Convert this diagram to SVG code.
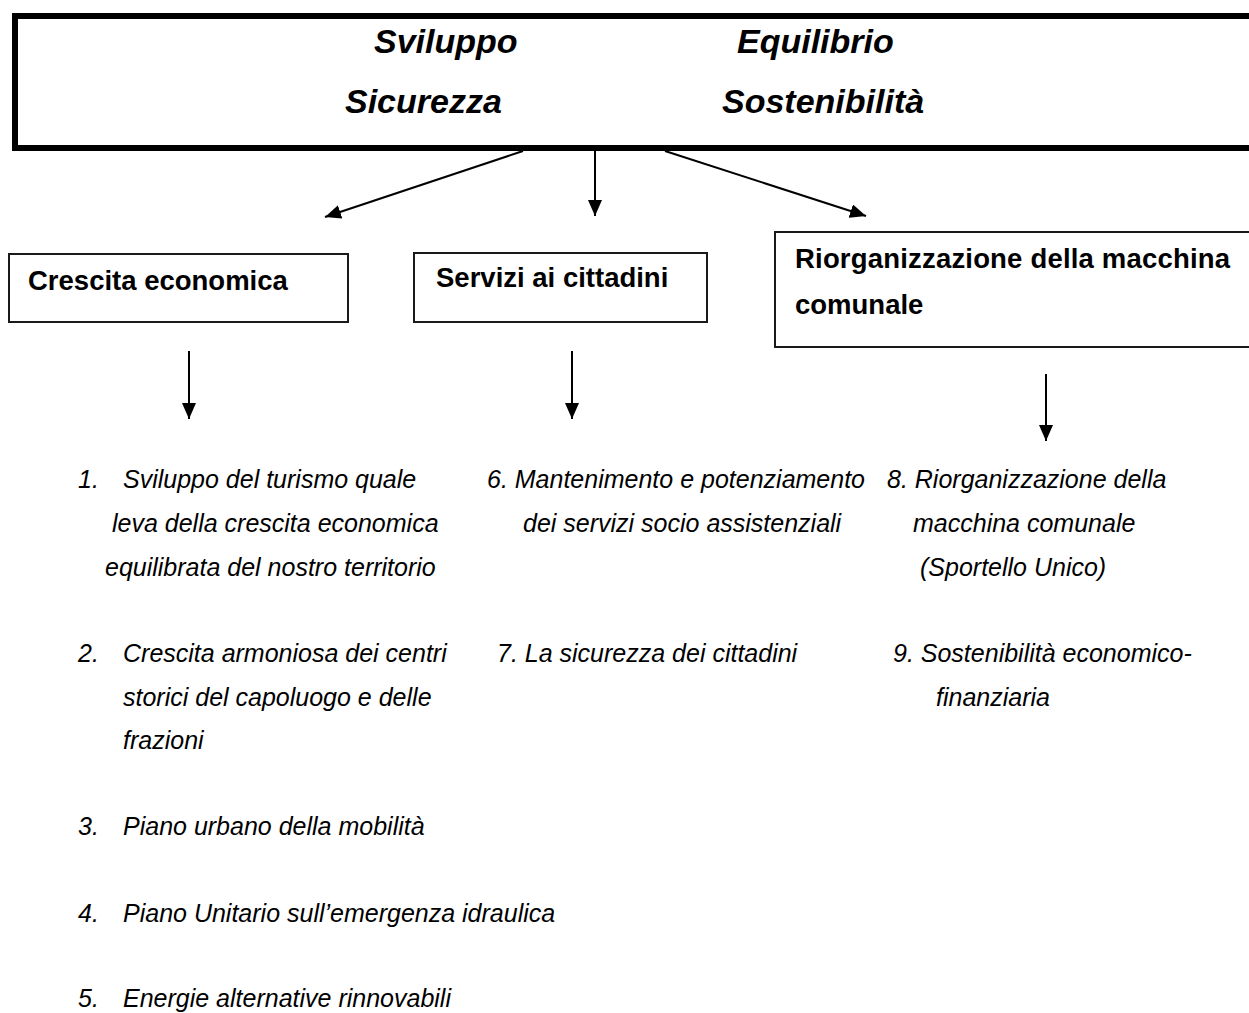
<svg xmlns="http://www.w3.org/2000/svg" width="1249" height="1013" viewBox="0 0 1249 1013">
<style>
  .hdr { font-family: "Liberation Sans", Arial, sans-serif; font-size: 34px; font-weight: bold; font-style: italic; fill: #000; }
  .box { fill: #fff; stroke: #1a1a1a; stroke-width: 2; }
  .lbl { font-family: "Liberation Sans", Arial, sans-serif; font-size: 27.5px; font-weight: bold; fill: #000; }
  .itm { font-family: "Liberation Sans", Arial, sans-serif; font-size: 25px; font-style: italic; fill: #000; }
  .conn { stroke: #000; stroke-width: 2; fill: none; marker-end: url(#ah); }
</style>
<defs>
  <marker id="ah" markerUnits="userSpaceOnUse" markerWidth="16" markerHeight="14" refX="16" refY="7" orient="auto">
    <path d="M0,0 L16,7 L0,14 z" fill="#000"/>
  </marker>
</defs>
<rect width="1249" height="1013" fill="#fff"/>

<g id="top">
  <rect x="15" y="16" width="1260" height="132" fill="#fff" stroke="#000" stroke-width="6"/>
  <text class="hdr" x="374" y="53">Sviluppo</text>
  <text class="hdr" x="737" y="53">Equilibrio</text>
  <text class="hdr" x="345" y="113">Sicurezza</text>
  <text class="hdr" x="722" y="113">Sostenibilità</text>
</g>

<g id="connectors">
  <line class="conn" x1="523" y1="151" x2="325" y2="217"/>
  <line class="conn" x1="595" y1="151" x2="595" y2="216"/>
  <line class="conn" x1="665" y1="151" x2="866" y2="216"/>
  <line class="conn" x1="189" y1="351" x2="189" y2="419"/>
  <line class="conn" x1="572" y1="351" x2="572" y2="419"/>
  <line class="conn" x1="1046" y1="374" x2="1046" y2="441"/>
</g>

<g id="crescita">
  <rect class="box" x="9" y="254" width="339" height="68"/>
  <text class="lbl" x="28" y="290">Crescita economica</text>
</g>

<g id="servizi">
  <rect class="box" x="414" y="253" width="293" height="69"/>
  <text class="lbl" x="436" y="287">Servizi ai cittadini</text>
</g>

<g id="riorganizzazione">
  <rect class="box" x="775" y="232" width="480" height="115"/>
  <text class="lbl" x="795" y="268" textLength="435" lengthAdjust="spacing">Riorganizzazione della macchina</text>
  <text class="lbl" x="795" y="314">comunale</text>
</g>

<g id="list-crescita">
  <text class="itm" x="78" y="488">1.</text>
  <text class="itm" x="123" y="488">Sviluppo del turismo quale</text>
  <text class="itm" x="112" y="532">leva della crescita economica</text>
  <text class="itm" x="105" y="576">equilibrata del nostro territorio</text>
  <text class="itm" x="78" y="662">2.</text>
  <text class="itm" x="123" y="662">Crescita armoniosa dei centri</text>
  <text class="itm" x="123" y="706">storici del capoluogo e delle</text>
  <text class="itm" x="123" y="749">frazioni</text>
  <text class="itm" x="78" y="835">3.</text>
  <text class="itm" x="123" y="835">Piano urbano della mobilità</text>
  <text class="itm" x="78" y="922">4.</text>
  <text class="itm" x="123" y="922">Piano Unitario sull’emergenza idraulica</text>
  <text class="itm" x="78" y="1007">5.</text>
  <text class="itm" x="123" y="1007">Energie alternative rinnovabili</text>
</g>

<g id="list-servizi">
  <text class="itm" x="487" y="488">6. Mantenimento e potenziamento</text>
  <text class="itm" x="523" y="532">dei servizi socio assistenziali</text>
  <text class="itm" x="497" y="662">7. La sicurezza dei cittadini</text>
</g>

<g id="list-riorganizzazione">
  <text class="itm" x="887" y="488">8. Riorganizzazione della</text>
  <text class="itm" x="913" y="532">macchina comunale</text>
  <text class="itm" x="920" y="576">(Sportello Unico)</text>
  <text class="itm" x="893" y="662">9. Sostenibilità economico-</text>
  <text class="itm" x="936" y="706">finanziaria</text>
</g>
</svg>
